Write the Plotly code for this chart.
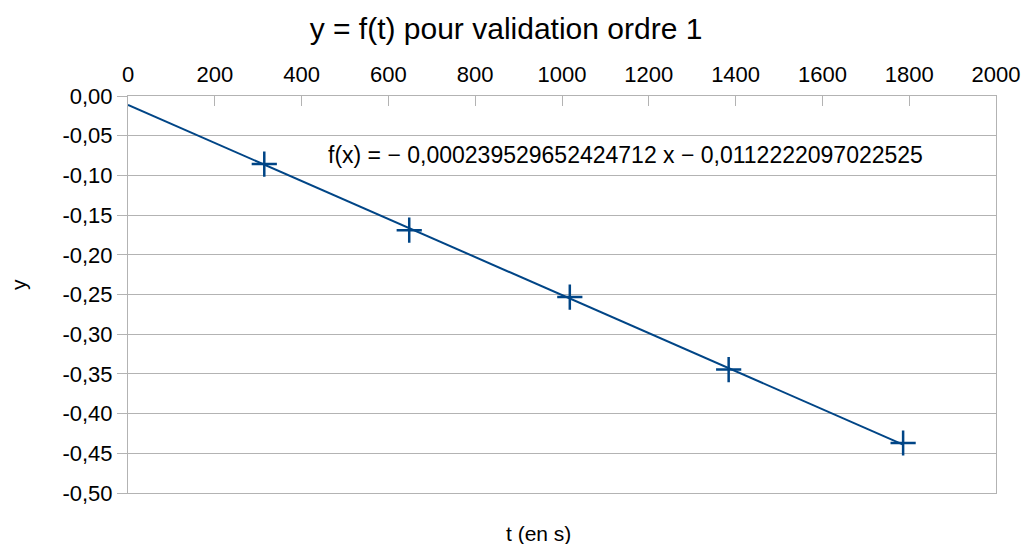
import plotly.graph_objects as go

# Data
t_values = [314, 648, 1018, 1384, 1786]
y_values = [-0.0857, -0.169, -0.2533, -0.3445, -0.437]

# Trend line coefficients (as displayed)
slope = -0.000239529652424712
intercept = -0.0112222097022525
trend_t = [0, max(t_values)]
trend_y = [slope * tt + intercept for tt in trend_t]

x_ticks = [0, 200, 400, 600, 800, 1000, 1200, 1400, 1600, 1800, 2000]
y_ticks = [0.0, -0.05, -0.10, -0.15, -0.20, -0.25, -0.30, -0.35, -0.40, -0.45, -0.50]
y_ticklabels = ["0,00", "-0,05", "-0,10", "-0,15", "-0,20", "-0,25", "-0,30",
                "-0,35", "-0,40", "-0,45", "-0,50"]

title_text = "y = f(t) pour validation ordre 1"
equation_text = "f(x) = − 0,000239529652424712 x − 0,0112222097022525"
x_title = "t (en s)"
y_title = "y"

BLUE = "#004586"
GRID = "#b3b3b3"
FONT = "Liberation Sans, Arial, sans-serif"

PL, PR, PT, PB = 128, 996, 96, 493
PW, PH = PR - PL, PB - PT

fig = go.Figure()
fig.add_trace(go.Scatter(x=trend_t, y=trend_y, mode="lines",
                         line=dict(color=BLUE, width=2), hoverinfo="skip",
                         showlegend=False))
fig.add_trace(go.Scatter(x=t_values, y=y_values, mode="markers",
                         marker=dict(symbol="cross-thin", size=18,
                                     line=dict(color=BLUE, width=2.5)),
                         showlegend=False))

fig.update_layout(
    width=1024, height=544,
    margin=dict(l=PL, r=1024 - PR, t=PT, b=544 - PB, autoexpand=False),
    paper_bgcolor="white", plot_bgcolor="white",
    font=dict(family=FONT, color="#000000"),
    title=dict(text=title_text, x=506/1024, xanchor="center",
               y=1 - 28/544, yanchor="middle",
               font=dict(size=30, family=FONT, color="#000000")),
    xaxis=dict(side="top", range=[0, 2000], tickvals=x_ticks,
               ticks="inside", ticklen=10, tickcolor=GRID,
               showgrid=False, zeroline=False, automargin=False,
               showline=True, linecolor=GRID, linewidth=1, mirror=True,
               tickfont=dict(size=22, family=FONT, color="#000000"),
               ticklabelstandoff=4),
    yaxis=dict(range=[-0.5, 0], tickvals=y_ticks, ticktext=y_ticklabels,
               ticks="outside", ticklen=10, tickcolor=GRID, automargin=False,
               showgrid=True, gridcolor=GRID, gridwidth=1, zeroline=False,
               showline=True, linecolor=GRID, linewidth=1, mirror=True,
               tickfont=dict(size=22, family=FONT, color="#000000")),
    annotations=[
        dict(text=equation_text, x=(326 - PL) / PW * 2000, y=-0.0744,
             xref="x", yref="y",
             xanchor="left", yanchor="middle", showarrow=False,
             font=dict(size=23, family=FONT, color="#000000")),
        dict(text=x_title, x=(538 - PL) / PW, y=-(533 - PB) / PH,
             xref="paper", yref="paper",
             xanchor="center", yanchor="middle", showarrow=False,
             font=dict(size=21, family=FONT, color="#000000")),
        dict(text=y_title, x=(18 - PL) / PW, y=(PB - 285) / PH,
             xref="paper", yref="paper",
             xanchor="center", yanchor="middle", showarrow=False, textangle=-90,
             font=dict(size=21, family=FONT, color="#000000")),
    ],
)

fig.write_html("out.html", config={"displayModeBar": False},
               post_script="document.body.style.margin='0';document.body.style.overflow='hidden';")
